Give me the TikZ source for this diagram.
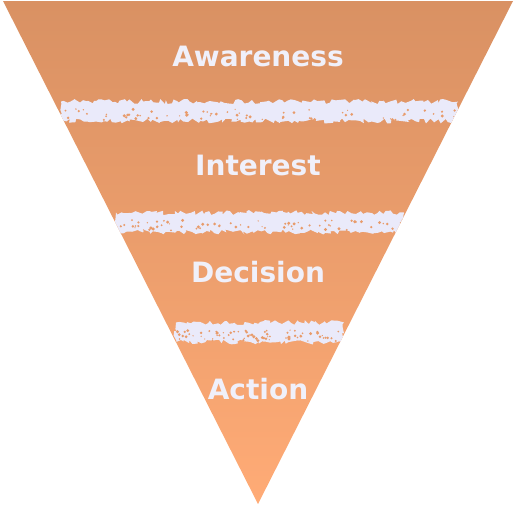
\documentclass[tikz,border=0pt]{standalone}
\usepackage{fontspec}
\setmainfont{DejaVu Sans}
\usetikzlibrary{decorations.pathmorphing}
\definecolor{topc}{RGB}{217,145,99}
\definecolor{botc}{RGB}{255,171,118}
\definecolor{bandc}{RGB}{234,234,250}
\definecolor{txtc}{RGB}{240,240,250}
\tikzset{
  lbl/.style={text=txtc,font=\bfseries\fontsize{28}{32}\selectfont,inner sep=0pt},
  bandstyle/.style={fill=bandc,decorate,decoration={random steps,segment length=3pt,amplitude=2.5pt}}
}
\begin{document}
\begin{tikzpicture}[x=1pt,y=-1pt]
\useasboundingbox (0,0) rectangle (516,506);
\pgfmathsetseed{7}
\coordinate (tl) at (3,1);
\coordinate (tr) at (513,1);
\coordinate (ap) at (258,504);
\shade[top color=topc,bottom color=botc] (tl) -- (tr) -- (ap) -- cycle;
\begin{scope}
\clip (tl) -- (tr) -- (ap) -- cycle;
\foreach \xa/\xb/\yc in {61/458/111, 116/404/222, 176/344/332}{
  \path[bandstyle] (\xa,\yc-9.5) -- (\xb,\yc-9.5) -- (\xb,\yc+10) -- (\xa,\yc+10) -- cycle;
  \foreach \i in {1,...,70}{
    \pgfmathsetmacro{\px}{\xa+rnd*(\xb-\xa)}
    \pgfmathsetmacro{\py}{\yc-2+rnd*11}
    \pgfmathsetmacro{\pr}{0.6+rnd*1.1}
    \fill[topc!60!botc] (\px,\py) circle (\pr);
  }
}
\end{scope}
\node[lbl] (aw) at (258,56) {Awareness};
\node[lbl] (in) at (258,165) {Interest};
\node[lbl] (de) at (258,272) {Decision};
\node[lbl] (ac) at (258,389) {Action};
\end{tikzpicture}
\end{document}
